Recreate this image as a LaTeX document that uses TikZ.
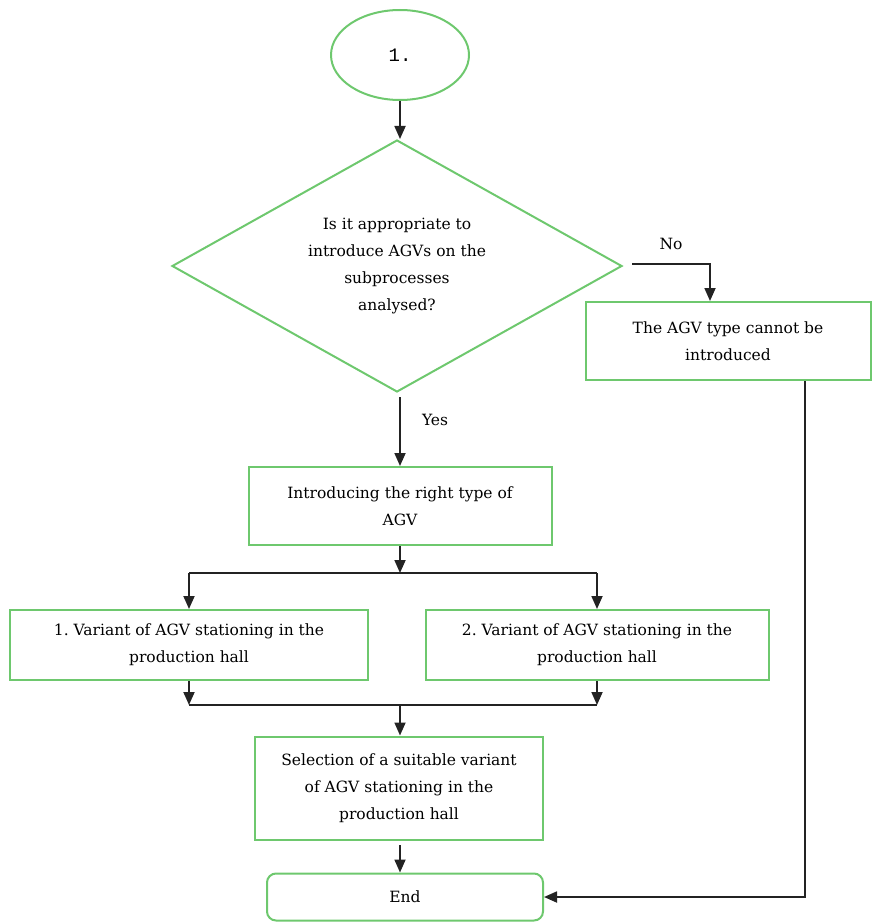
\documentclass[tikz,border=0pt]{standalone}
\usepackage{fontspec}
\setmainfont{DejaVu Serif}
\newfontfamily\monof{Liberation Mono}
\usetikzlibrary{shapes.geometric,arrows.meta,positioning}
\definecolor{boxgreen}{RGB}{110,200,110}
\definecolor{linegray}{RGB}{35,35,35}
\tikzset{
  flowbox/.style={draw=boxgreen, line width=2pt, align=center, inner sep=0pt,
    font=\fontsize{15.5}{27}\selectfont},
  conn/.style={draw=linegray, line width=1.8pt},
  arr/.style={conn, -{Triangle[width=11pt,length=13pt]}},
  lbl/.style={font=\fontsize{15.5}{27}\selectfont, inner sep=0pt},
}
\frenchspacing
\begin{document}
\begin{tikzpicture}[x=1pt,y=-1pt]
\useasboundingbox (0,0) rectangle (873,923);
\node[flowbox, ellipse, minimum width=138pt, minimum height=90pt] (start) at (400,55) {\monof\fontsize{19}{20}\selectfont 1.};
\node[flowbox, diamond, aspect=1.786, minimum width=450pt, minimum height=252pt] (dia) at (397,266)
  {Is it appropriate to\\introduce AGVs on the\\subprocesses\\analysed?};
\node[flowbox, minimum width=285pt, minimum height=78pt] (nobox) at (728,341)
  {The AGV type cannot be\\introduced};
\node[flowbox, minimum width=303pt, minimum height=78pt] (intro) at (400,506)
  {Introducing the right type of\\AGV};
\node[flowbox, minimum width=358pt, minimum height=70pt] (b1) at (189,645)
  {1. Variant of AGV stationing in the\\production hall};
\node[flowbox, minimum width=343pt, minimum height=70pt] (b2) at (597,645)
  {2. Variant of AGV stationing in the\\production hall};
\node[flowbox, minimum width=288pt, minimum height=103pt] (sel) at (399,788)
  {Selection of a suitable variant\\of AGV stationing in the\\production hall};
\node[flowbox, rounded corners=9pt, minimum width=276pt, minimum height=47pt] (endbox) at (405,897)
  {End};
\coordinate (split) at (400,573);
\coordinate (s1) at (189,573);
\coordinate (s2) at (597,573);
\coordinate (j1) at (189,705);
\coordinate (j2) at (597,705);
\coordinate (join) at (400,705);
\coordinate (noStart) at (632,264);
\coordinate (yesStart) at (400,397);
\coordinate (selOut) at (400,845);
% connectors
\draw[arr] (start.south) -- (start.south |- dia.north);
\draw[arr] (noStart) -| ([xshift=-18pt]nobox.north);
\node[lbl] (nolbl) at (671,244) {No};
\draw[arr] (yesStart) -- (yesStart |- intro.north);
\node[lbl] (yeslbl) at (435,420) {Yes};
\draw[arr] (intro.south) -- (split);
\draw[conn] (s1) -- (s2);
\draw[arr] (s1) -- (b1.north);
\draw[arr] (s2) -- (b2.north);
\draw[arr] (b1.south) -- (j1);
\draw[arr] (b2.south) -- (j2);
\draw[conn] (j1) -- (j2);
\draw[arr] (join) -- (join |- sel.north);
\draw[arr] (selOut) -- (selOut |- endbox.north);
\draw[arr] ([xshift=77pt]nobox.south) |- (endbox.east);
\end{tikzpicture}
\end{document}
